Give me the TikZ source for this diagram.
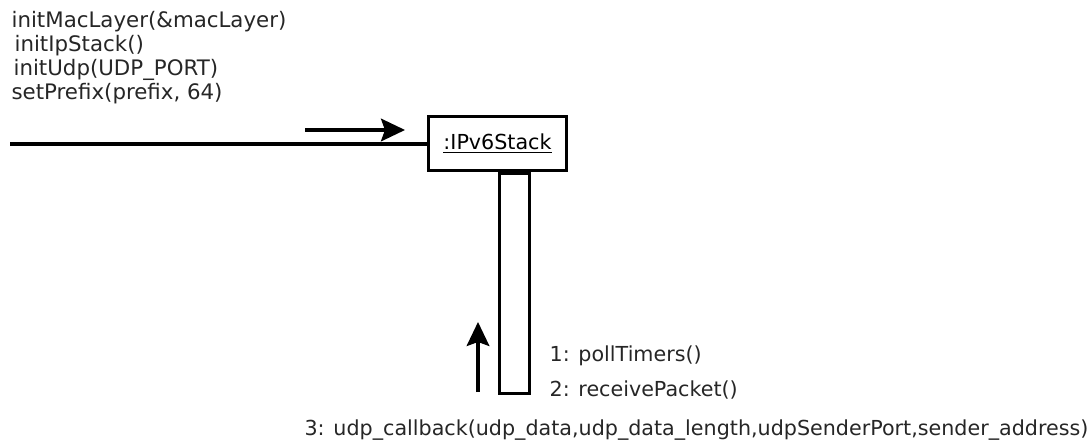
\documentclass[tikz,border=0pt]{standalone}
\usepackage{fontspec}
\setmainfont{DejaVu Sans}
\usetikzlibrary{arrows.meta}
\begin{document}
\begin{tikzpicture}[x=0.75pt, y=-0.75pt, line width=2.4pt, >={Stealth[length=18pt, width=17pt, inset=3pt]},
    every node/.style={font=\fontsize{15.5}{18}\selectfont, inner sep=0pt},
    obj/.style={draw, minimum width=103pt, minimum height=41pt},
    bar/.style={draw, minimum width=23pt, minimum height=165pt, anchor=north},
    msg/.style={anchor=west, text=black!85},
    call/.style={msg, font=\fontsize{16}{18}\selectfont}]

            \useasboundingbox (0,0) rectangle (1087,445);

            % Object and activation
            \node[obj] (stack) at (497.5,143.5) {\underline{:IPv6Stack}};
            \node[bar] (act) at (514.5,172) {};

            % Messages
            \node[call] (m1) at (10,22) {initMacLayer(\&macLayer)};
            \node[call] (m2) at (13,46) {initIpStack()};
            \node[call] (m3) at (12,70) {initUdp(UDP\_PORT)};
            \node[call] (m4) at (10,94) {setPrefix(prefix, 64)};
            \node[msg] (p1) at (548,356) {1: pollTimers()};
            \node[msg] (p2) at (548,390) {2: receivePacket()};
            \node[msg] (cb) at (303,430) {3: udp\_callback(udp\_data,udp\_data\_length,udpSenderPort,sender\_address)};

            % Links
            \coordinate (start) at (10,144);
            \coordinate (a1) at (305,130);
            \coordinate (a2) at (405,130);
            \coordinate (u1) at (478,392);
            \coordinate (u2) at (478,322);
            \draw (start) -- (start -| stack.west);
            \draw[->] (a1) -- (a2);
            \draw[->] (u1) -- (u2);
          \end{tikzpicture}
\end{document}
